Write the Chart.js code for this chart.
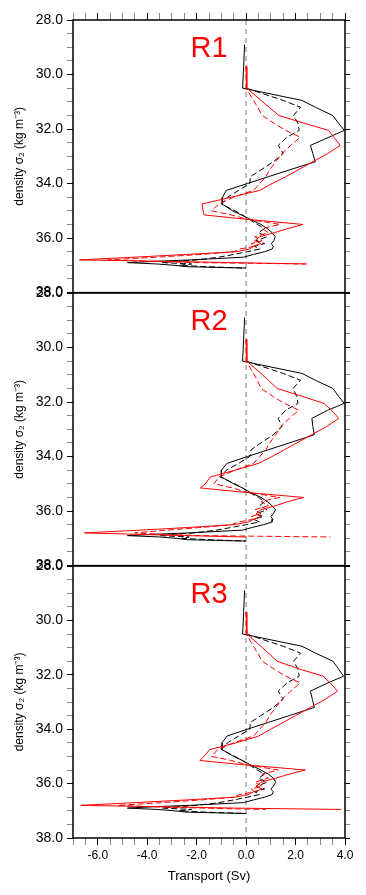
<!DOCTYPE html>
<html lang="en">
<head>
<meta charset="UTF-8">
<title>Transport in density space</title>
<script src="https://cdn.jsdelivr.net/npm/chart.js@4.4.1/dist/chart.umd.min.js"></script>
<style>
    body {
        margin: 0;
        background-color: #ffffff;
    }
    #wrap {
        position: relative;
        width: 366px;
        height: 895px;
    }
    #wrap canvas {
        position: absolute;
        left: 0;
    }
</style>
</head>
<body>

<div id="wrap">
    <canvas id="panel1" width="366" height="305" style="top:0px"></canvas>
    <canvas id="panel2" width="366" height="298" style="top:280px"></canvas>
    <canvas id="panel3" width="366" height="342" style="top:553px"></canvas>
</div>

<script>
    // density classes (sigma_2) shared by every profile
    var density = [28.9, 29.7, 30.5, 30.95, 31.2, 31.5, 31.8, 32.05, 32.3, 32.6,
                   32.9, 33.2, 33.5, 33.75, 34.0, 34.25, 34.5, 34.75, 35.0, 35.15,
                   35.3, 35.5, 35.65, 35.8, 35.95, 36.1, 36.2, 36.3, 36.4, 36.5,
                   36.6, 36.7, 36.8, 36.85, 36.9, 36.95, 37.0, 37.05, 37.1];

    var panelTitles = ['R1', 'R2', 'R3'];
    var densityTicks = [28, 30, 32, 34, 36, 38];
    var transportTicks = [-6, -4, -2, 0, 2, 4];

    // transport (Sv) per density class
    var r1BlackSolid = [-0.06, -0.1, -0.14, 2.26, 2.8, 3.5, 3.75, 3.97, 3.35, 2.6, 2.7, 2.8, 1.75, 0.9, 0.05, -0.8, -0.95, -0.97, -0.55, -0.2, 0.15, 0.6, 0.85, 1.05, 1.18, 1.12, 1.02, 1.1, 1.06, 0.75, 0.3, -0.1, -2.2, -3.6, -4.8, -3.6, -2.9, -2.4, 0.0];
    var r1BlackDash  = [null, null, 0.0, 1.5, 2.2, 1.92, 2.1, 2.15, 1.65, 1.3, 1.5, 1.1, 0.6, 0.17, 0.15, -0.3, -0.75, -1.0, -0.45, -0.15, 0.1, 0.45, 0.75, 0.5, 0.85, 0.4, 0.75, 0.35, 0.55, 0.05, -0.5, -1.1, -2.0, -2.8, -3.4, -2.2, -2.7, -1.6, 0.0];
    var r1RedSolid   = [null, 0.0, 0.03, 0.6, 0.93, 1.32, 2.4, 3.34, 3.55, 3.81, 3.3, 2.7, 2.1, 1.6, 1.05, 0.55, -0.6, -1.78, -1.74, -1.7, -0.1, 2.3, 1.7, 1.15, 0.55, 0.35, 0.6, 0.3, 0.15, -0.4, -2.4, -4.5, -6.74, -3.5, -0.5, 2.46, null, null, null];
    var r1RedDash    = [null, 0.0, 0.0, 0.3, 0.47, 0.65, 1.15, 1.6, 2.19, 1.8, 1.45, 1.2, 0.95, 0.8, 0.55, 0.3, -0.5, -1.1, -1.4, -0.6, 0.0, 1.38, 0.65, 0.9, 0.35, 0.65, 0.2, 0.35, -0.25, -0.5, -1.8, -3.6, -5.6, -4.0, -2.0, 2.4, null, null, null];

    var r2BlackSolid = [-0.06, -0.1, -0.14, 2.26, 2.8, 3.51, 3.75, 3.97, 3.3, 2.66, 2.7, 2.76, 1.75, 0.9, 0.05, -0.77, -1.0, -1.0, -0.5, -0.15, 0.15, 0.6, 0.85, 1.05, 1.19, 1.1, 1.0, 1.08, 1.05, 0.7, 0.25, -0.15, -2.3, -3.7, -4.8, -3.5, -2.8, -2.4, 0.0];
    var r2BlackDash  = [null, null, 0.0, 1.5, 2.2, 1.9, 2.05, 2.1, 1.6, 1.3, 1.45, 1.1, 0.6, 0.2, 0.15, -0.3, -0.8, -1.05, -0.45, -0.15, 0.1, 0.5, 0.75, 0.55, 0.85, 0.4, 0.7, 0.3, 0.55, 0.0, -0.6, -1.2, -2.1, -2.9, -3.5, -2.3, -2.6, -1.5, 0.0];
    var r2RedSolid   = [null, 0.0, 0.03, 0.6, 0.9, 1.25, 2.3, 3.15, 3.45, 3.75, 3.25, 2.65, 2.05, 1.55, 1.05, 0.5, -0.45, -1.45, -1.65, -1.85, -0.2, 2.33, 1.7, 1.2, 0.6, 0.4, 0.6, 0.3, 0.1, -0.5, -2.3, -4.3, -6.53, -4.5, -2.5, 0.0, null, null, null];
    var r2RedDash    = [null, 0.0, 0.0, 0.3, 0.45, 0.6, 1.1, 1.55, 2.13, 1.75, 1.4, 1.2, 0.95, 0.8, 0.55, 0.3, -0.45, -1.1, -1.3, -0.55, 0.0, 1.35, 0.6, 0.9, 0.35, 0.6, 0.2, 0.3, -0.3, -0.6, -1.8, -3.2, -4.5, -3.5, -1.8, 3.4, null, null, null];

    var r3BlackSolid = [-0.06, -0.1, -0.14, 2.26, 2.8, 3.51, 3.75, 3.94, 3.3, 2.6, 2.68, 2.76, 1.75, 0.9, 0.05, -0.77, -0.97, -0.97, -0.5, -0.15, 0.15, 0.6, 0.9, 1.1, 1.2, 1.1, 1.0, 1.1, 1.05, 0.75, 0.3, -0.1, -2.3, -3.7, -4.8, -3.6, -2.9, -2.4, 0.0];
    var r3BlackDash  = [null, null, 0.0, 1.5, 2.2, 1.92, 2.1, 2.15, 1.65, 1.3, 1.5, 1.1, 0.6, 0.17, 0.15, -0.3, -0.75, -1.0, -0.45, -0.15, 0.1, 0.45, 0.75, 0.5, 0.85, 0.4, 0.75, 0.35, 0.55, 0.05, -0.5, -1.1, -2.0, -2.8, -3.4, -2.2, -2.7, -1.6, 0.0];
    var r3RedSolid   = [null, 0.0, 0.03, 0.6, 0.9, 1.25, 2.2, 3.11, 3.4, 3.7, 3.2, 2.6, 2.0, 1.5, 1.0, 0.51, -0.4, -1.47, -1.7, -1.87, -0.2, 2.4, 1.75, 1.2, 0.6, 0.4, 0.65, 0.3, 0.1, -0.45, -2.4, -4.5, -6.69, -3.5, -0.5, 3.84, null, null, null];
    var r3RedDash    = [null, 0.0, 0.0, 0.3, 0.47, 0.65, 1.15, 1.6, 2.19, 1.8, 1.45, 1.2, 0.95, 0.8, 0.55, 0.3, -0.5, -1.15, -1.4, -0.6, 0.0, 1.3, 0.65, 0.9, 0.35, 0.65, 0.2, 0.35, -0.25, -0.5, -1.8, -3.4, -5.2, -3.8, -1.8, 0.8, null, null, null];

    var fontFamily = '"Liberation Sans", Arial, Helvetica, sans-serif';

    function toPoints(values) {
        return density
            .map(function(d, i) { return values[i] === null ? null : {x: values[i], y: d}; })
            .filter(function(p) { return p !== null; });
    }

    function lineSet(values, color, dashed) {
        return {
            data: toPoints(values),
            borderColor: color,
            borderWidth: 1,
            borderDash: dashed ? [6, 3] : [],
            showLine: true,
            pointRadius: 0,
            fill: false
        };
    }

    // box round the plot area plus the red panel name
    var frameAndLabel = {
        id: 'frameAndLabel',
        afterDatasetsDraw: function(chart, args, opts) {
            var a = chart.chartArea;
            var ctx = chart.ctx;
            ctx.save();
            ctx.strokeStyle = '#000';
            ctx.lineWidth = 1.5;
            ctx.strokeRect(a.left, a.top, a.right - a.left, a.bottom - a.top);
            ctx.fillStyle = '#ff0000';
            ctx.font = '29px ' + fontFamily;
            ctx.textAlign = 'center';
            ctx.textBaseline = 'middle';
            ctx.fillText(opts.text, chart.scales.x.getPixelForValue(-1.5), chart.scales.y.getPixelForValue(29.05));
            ctx.restore();
        }
    };

    function tickColor(ctx) {
        var v = ctx.tick ? ctx.tick.value : 0;
        return v % 2 === 0 ? '#000' : '#8a8a8a';
    }

    function makePanel(id, title, blackSolid, blackDash, redSolid, redDash, where) {
        var xScale = {
            type: 'linear',
            min: -7,
            max: 4,
            ticks: {
                stepSize: 0.5,
                autoSkip: false,
                maxRotation: 0,
                padding: 3,
                color: '#000',
                font: {size: 12, family: fontFamily},
                callback: function(v) { return transportTicks.indexOf(v) >= 0 ? v.toFixed(1) : ''; }
            },
            grid: {drawOnChartArea: false, tickLength: 7, tickColor: tickColor},
            border: {display: false}
        };
        var padding = {left: 0, right: 0, top: 13, bottom: 12};

        if (where === 'top') {
            xScale.position = 'top';
            xScale.ticks.display = false;
            xScale.afterFit = function(s) { s.height = 20; };
            padding.top = 0;
        } else if (where === 'bottom') {
            xScale.position = 'bottom';
            xScale.title = {display: true, text: 'Transport (Sv)', color: '#000',
                            font: {size: 13, family: fontFamily}, padding: {top: 0, bottom: 11}};
            xScale.afterFit = function(s) { s.height = 57; };
            padding.bottom = 0;
        } else {
            xScale.display = false;
        }

        return new Chart(document.getElementById(id), {
            type: 'scatter',
            data: {
                datasets: [
                    lineSet(redSolid, '#ff0000', false),
                    lineSet(redDash, '#ff0000', true),
                    lineSet(blackSolid, '#000000', false),
                    lineSet(blackDash, '#000000', true),
                    {
                        data: [{x: 0, y: 28}, {x: 0, y: 38}],
                        borderColor: '#a6a6a6',
                        borderWidth: 1.5,
                        borderDash: [5, 4],
                        showLine: true,
                        pointRadius: 0
                    }
                ]
            },
            options: {
                responsive: false,
                animation: false,
                layout: {padding: padding},
                plugins: {
                    legend: {display: false},
                    tooltip: {enabled: false},
                    frameAndLabel: {text: title}
                },
                scales: {
                    x: xScale,
                    y: {
                        type: 'linear',
                        position: 'left',
                        reverse: true,
                        min: 28,
                        max: 38,
                        ticks: {
                            stepSize: 0.5,
                            autoSkip: false,
                            padding: 4,
                            color: '#000',
                            font: {size: 14, family: fontFamily},
                            callback: function(v) { return densityTicks.indexOf(v) >= 0 ? v.toFixed(1) : ''; }
                        },
                        grid: {drawOnChartArea: false, tickLength: 6, tickColor: tickColor},
                        border: {display: false},
                        title: {display: true, text: 'density σ₂ (kg m⁻³)', color: '#000',
                                font: {size: 12, family: fontFamily}, padding: {top: 12, bottom: 0}},
                        afterFit: function(s) { s.width = 73; }
                    },
                    yRight: {
                        type: 'linear',
                        position: 'right',
                        reverse: true,
                        min: 28,
                        max: 38,
                        ticks: {stepSize: 0.5, autoSkip: false, display: false},
                        grid: {drawOnChartArea: false, tickLength: 5, tickColor: tickColor},
                        border: {display: false},
                        afterFit: function(s) { s.width = 21; }
                    }
                }
            },
            plugins: [frameAndLabel]
        });
    }

    var chart1 = makePanel('panel1', panelTitles[0], r1BlackSolid, r1BlackDash, r1RedSolid, r1RedDash, 'top');
    var chart2 = makePanel('panel2', panelTitles[1], r2BlackSolid, r2BlackDash, r2RedSolid, r2RedDash, 'none');
    var chart3 = makePanel('panel3', panelTitles[2], r3BlackSolid, r3BlackDash, r3RedSolid, r3RedDash, 'bottom');
</script>
</body>
</html>
